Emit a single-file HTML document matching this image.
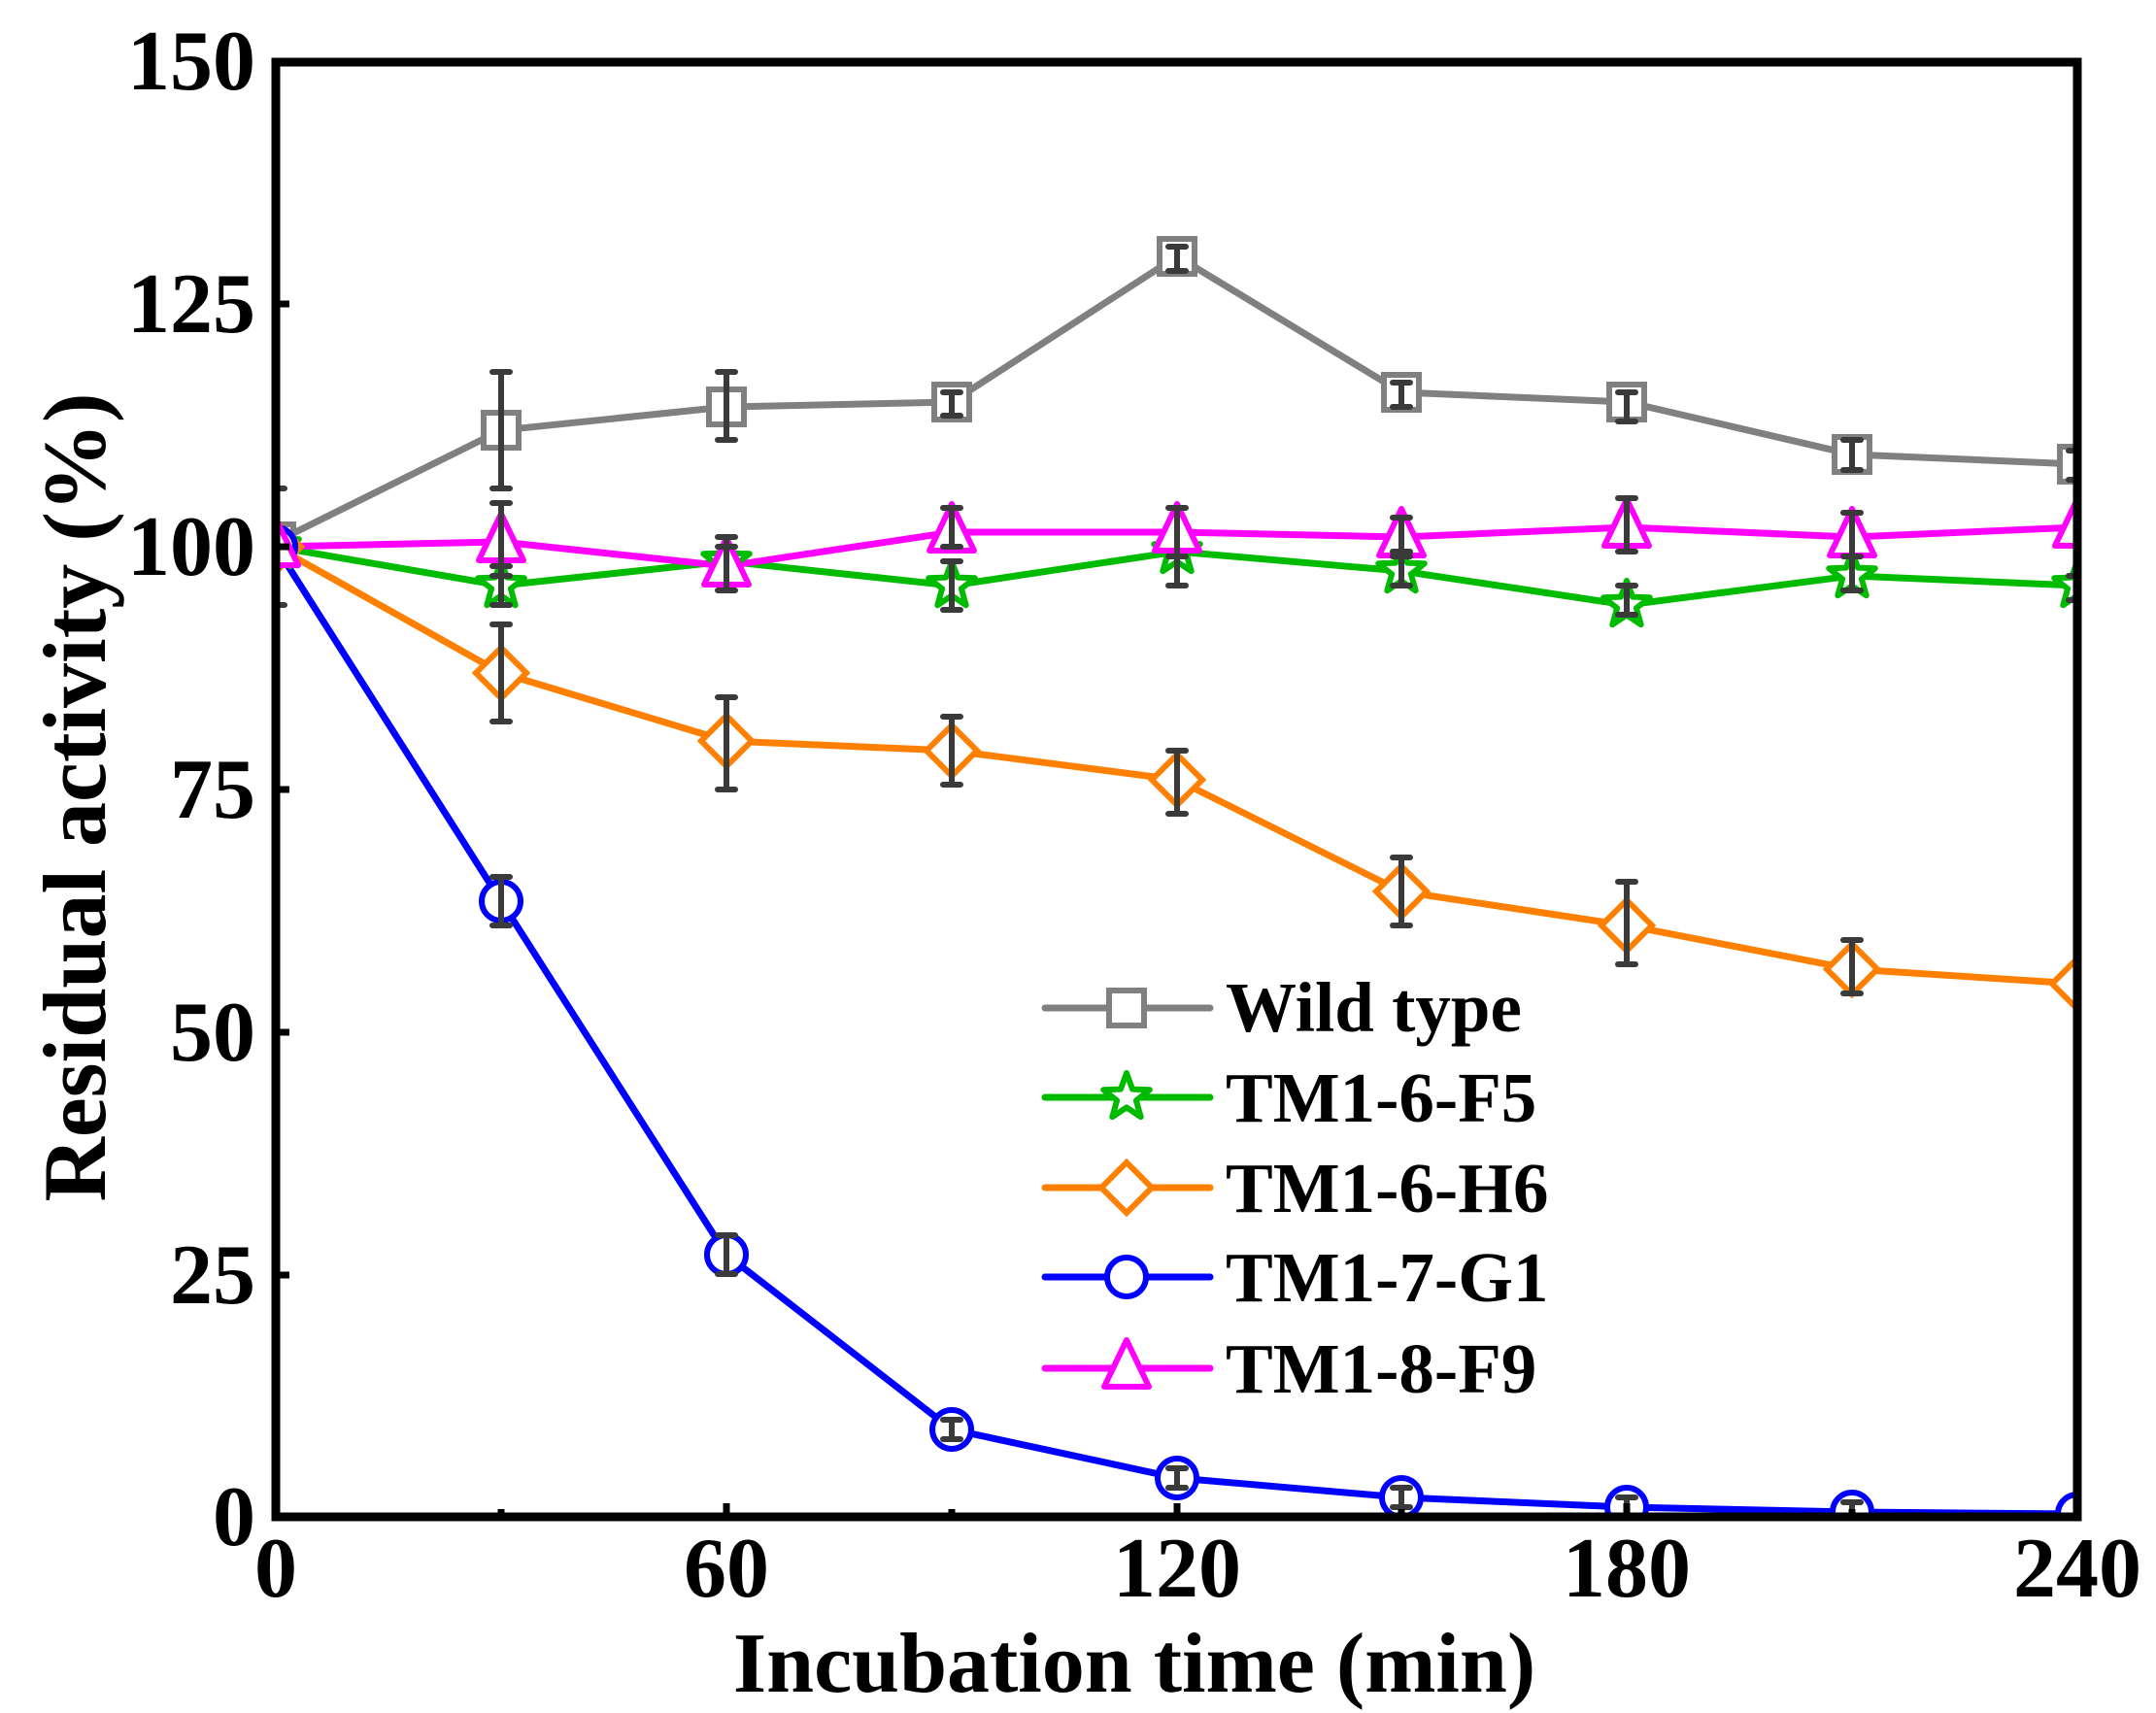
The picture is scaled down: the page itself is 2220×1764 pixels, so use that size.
<!DOCTYPE html>
<html><head><meta charset="utf-8"><style>
html,body{margin:0;padding:0;background:#fff;}
svg{display:block;}
text{font-family:"Liberation Serif","Times New Roman",serif;font-weight:bold;fill:#000;}
</style></head><body>
<svg width="2220" height="1764" viewBox="0 0 2220 1764" xmlns="http://www.w3.org/2000/svg">
<defs>
<clipPath id="c"><rect x="284" y="64" width="1855" height="1498"/></clipPath>
<g id="sq"><rect x="-18" y="-18" width="36" height="36" fill="#fff" stroke="#808080" stroke-width="6"/></g>
<g id="st"><polygon points="0,-25 6.1,-8.4 23.8,-7.7 9.9,3.2 14.7,20.2 0,10.4 -14.7,20.2 -9.9,3.2 -23.8,-7.7 -6.1,-8.4" fill="#fff" stroke="#00bb00" stroke-width="6" stroke-linejoin="round"/></g>
<g id="di"><polygon points="0,-26 26,0 0,26 -26,0" fill="#fff" stroke="#ff8000" stroke-width="6"/></g>
<g id="ci"><circle r="20" fill="#fff" stroke="#0000ff" stroke-width="6"/></g>
<g id="tr"><polygon points="0,-29 23,19 -23,19" fill="#fff" stroke="#ff00ff" stroke-width="6" stroke-linejoin="round"/></g>
</defs>
<g clip-path="url(#c)">
<polyline fill="none" stroke="#808080" stroke-width="7" points="284,558 516,443 748,419 980,414 1212,264 1443,404 1675,414 1907,468 2139,478"/>
<polyline fill="none" stroke="#00bb00" stroke-width="7" points="284,563 516,603 748,578 980,603 1212,568 1443,588 1675,623 1907,593 2139,603"/>
<polyline fill="none" stroke="#ff8000" stroke-width="7" points="284,563 516,693 748,763 980,773 1212,803 1443,918 1675,953 1907,998 2139,1013"/>
<polyline fill="none" stroke="#0000ff" stroke-width="7" points="284,563 516,928 748,1292 980,1472 1212,1522 1443,1542 1675,1552 1907,1557 2139,1559"/>
<polyline fill="none" stroke="#ff00ff" stroke-width="7" points="284,563 516,558 748,583 980,548 1212,548 1443,553 1675,543 1907,553 2139,543"/>
<use href="#sq" x="284" y="558"/><use href="#sq" x="516" y="443"/><use href="#sq" x="748" y="419"/><use href="#sq" x="980" y="414"/><use href="#sq" x="1212" y="264"/><use href="#sq" x="1443" y="404"/><use href="#sq" x="1675" y="414"/><use href="#sq" x="1907" y="468"/><use href="#sq" x="2139" y="478"/>
<use href="#st" x="284" y="563"/><use href="#st" x="516" y="603"/><use href="#st" x="748" y="578"/><use href="#st" x="980" y="603"/><use href="#st" x="1212" y="568"/><use href="#st" x="1443" y="588"/><use href="#st" x="1675" y="623"/><use href="#st" x="1907" y="593"/><use href="#st" x="2139" y="603"/>
<use href="#di" x="284" y="563"/><use href="#di" x="516" y="693"/><use href="#di" x="748" y="763"/><use href="#di" x="980" y="773"/><use href="#di" x="1212" y="803"/><use href="#di" x="1443" y="918"/><use href="#di" x="1675" y="953"/><use href="#di" x="1907" y="998"/><use href="#di" x="2139" y="1013"/>
<use href="#ci" x="284" y="563"/><use href="#ci" x="516" y="928"/><use href="#ci" x="748" y="1292"/><use href="#ci" x="980" y="1472"/><use href="#ci" x="1212" y="1522"/><use href="#ci" x="1443" y="1542"/><use href="#ci" x="1675" y="1552"/><use href="#ci" x="1907" y="1557"/><use href="#ci" x="2139" y="1559"/>
<use href="#tr" x="284" y="563"/><use href="#tr" x="516" y="558"/><use href="#tr" x="748" y="583"/><use href="#tr" x="980" y="548"/><use href="#tr" x="1212" y="548"/><use href="#tr" x="1443" y="553"/><use href="#tr" x="1675" y="543"/><use href="#tr" x="1907" y="553"/><use href="#tr" x="2139" y="543"/>
<path fill="none" stroke="#3a3a3a" stroke-width="6" stroke-linecap="round" d="
M284 503V623M275 503h18M275 623h18
M516 383V503M507 383h18M507 503h18
M748 383V453M739 383h18M739 453h18
M980 404V428M971 404h18M971 428h18
M1212 254V279M1203 254h18M1203 279h18
M1443 394V419M1434 394h18M1434 419h18
M1675 404V434M1666 404h18M1666 434h18
M1907 453V484M1898 453h18M1898 484h18
M2139 464V494M2130 464h18M2130 494h18
M516 583V623M507 583h18M507 623h18
M748 553V608M739 553h18M739 608h18
M980 578V628M971 578h18M971 628h18
M1212 523V603M1203 523h18M1203 603h18
M1443 568V603M1434 568h18M1434 603h18
M1675 603V633M1666 603h18M1666 633h18
M1907 573V608M1898 573h18M1898 608h18
M2139 593V618M2130 593h18M2130 618h18
M516 643V743M507 643h18M507 743h18
M748 718V813M739 718h18M739 813h18
M980 738V808M971 738h18M971 808h18
M1212 773V838M1203 773h18M1203 838h18
M1443 883V953M1434 883h18M1434 953h18
M1675 908V993M1666 908h18M1666 993h18
M1907 968V1023M1898 968h18M1898 1023h18
M516 903V953M507 903h18M507 953h18
M748 1272V1312M739 1272h18M739 1312h18
M980 1462V1482M971 1462h18M971 1482h18
M1212 1512V1532M1203 1512h18M1203 1532h18
M1443 1532V1552M1434 1532h18M1434 1552h18
M1675 1542V1560M1666 1542h18
M1907 1547V1560M1898 1547h18
M516 518V593M507 518h18M507 593h18
M748 563V608M739 563h18M739 608h18
M980 523V563M971 523h18M971 563h18
M1212 523V573M1203 523h18M1203 573h18
M1443 533V573M1434 533h18M1434 573h18
M1675 513V568M1666 513h18M1666 568h18
M1907 528V573M1898 528h18M1898 573h18"/>
</g>
<rect x="284" y="64" width="1855" height="1498" fill="none" stroke="#000" stroke-width="9"/>
<path stroke="#000" stroke-width="7" d="M284 313h14M284 813h14M284 1063h14M284 1313h14M284 563h14 M748 1562v-14M1212 1562v-14M1675 1562v-14 M516 1562v-8M980 1562v-8M1443 1562v-8M1907 1562v-8"/>
<g font-size="88" text-anchor="end">
<text x="263" y="92">150</text>
<text x="263" y="342">125</text>
<text x="263" y="592">100</text>
<text x="263" y="842">75</text>
<text x="263" y="1092">50</text>
<text x="263" y="1342">25</text>
<text x="263" y="1591">0</text>
</g>
<g font-size="88" text-anchor="middle">
<text x="284" y="1644">0</text>
<text x="748" y="1644">60</text>
<text x="1212" y="1644">120</text>
<text x="1675" y="1644">180</text>
<text x="2139" y="1644">240</text>
</g>
<text x="1168" y="1742" font-size="88" text-anchor="middle">Incubation time (min)</text>
<text transform="translate(108,821) rotate(-90)" font-size="92" text-anchor="middle">Residual activity (%)</text>
<g stroke-width="7" stroke-linecap="round">
<line x1="1076" y1="1038" x2="1246" y2="1038" stroke="#808080"/>
<line x1="1076" y1="1130" x2="1246" y2="1130" stroke="#00bb00"/>
<line x1="1076" y1="1223" x2="1246" y2="1223" stroke="#ff8000"/>
<line x1="1076" y1="1315" x2="1246" y2="1315" stroke="#0000ff"/>
<line x1="1076" y1="1409" x2="1246" y2="1409" stroke="#ff00ff"/>
</g>
<use href="#sq" x="1160" y="1038"/>
<use href="#st" x="1160" y="1130"/>
<use href="#di" x="1160" y="1223"/>
<use href="#ci" x="1160" y="1315"/>
<use href="#tr" x="1160" y="1409"/>
<g font-size="73">
<text x="1262" y="1062">Wild type</text>
<text x="1262" y="1155">TM1-6-F5</text>
<text x="1262" y="1248">TM1-6-H6</text>
<text x="1262" y="1340">TM1-7-G1</text>
<text x="1262" y="1434">TM1-8-F9</text>
</g>
</svg>
</body></html>
